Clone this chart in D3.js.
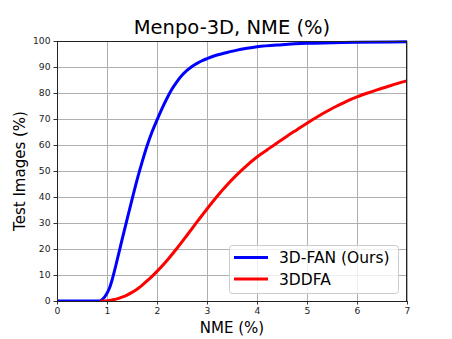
<!DOCTYPE html>
<html>
<head>
<meta charset="utf-8">
<script src="https://cdn.jsdelivr.net/npm/d3@7"></script>
<style>
  html, body { margin: 0; padding: 0; background: #fff; }
  svg { display: block; font-family: "DejaVu Sans", sans-serif; }
</style>
</head>
<body>
<svg id="chart" width="452" height="339"></svg>
<script>
// ---- data ----
const title = "Menpo-3D, NME (%)";
const xLabel = "NME (%)";
const yLabel = "Test Images (%)";
const seriesNames = ["3D-FAN (Ours)", "3DDFA"];
const seriesColors = ["#0000ff", "#ff0000"];

const fanX = [0, 0.85, 0.9, 0.95, 1.0, 1.05, 1.1, 1.2, 1.3, 1.4, 1.5, 1.6, 1.7, 1.8, 1.9, 2.0, 2.1, 2.2, 2.3, 2.4, 2.5, 2.6, 2.7, 2.8, 2.9, 3.0, 3.2, 3.4, 3.6, 3.8, 4.0, 4.5, 5.0, 5.5, 6.0, 7.0];
const fanY = [0, 0, 0.5, 1.5, 3, 5, 8, 15.5, 23.5, 31.3, 39, 46.5, 53.3, 59.6, 65, 69.6, 74, 78, 81.5, 84.4, 86.8, 88.7, 90.2, 91.4, 92.4, 93.2, 94.6, 95.6, 96.5, 97.2, 97.8, 98.6, 99.1, 99.3, 99.5, 99.7];

const ddfaX = [0.9, 1.0, 1.1, 1.2, 1.3, 1.4, 1.5, 1.6, 1.7, 1.8, 1.9, 2.0, 2.2, 2.4, 2.6, 2.8, 3.0, 3.2, 3.4, 3.6, 3.8, 4.0, 4.2, 4.4, 4.6, 4.8, 5.0, 5.2, 5.4, 5.6, 5.8, 6.0, 6.2, 6.4, 6.6, 6.8, 7.0];
const ddfaY = [0, 0.1, 0.4, 0.8, 1.5, 2.3, 3.3, 4.5, 6.0, 7.7, 9.5, 11.4, 15.6, 20.3, 25.3, 30.4, 35.4, 40.2, 44.6, 48.6, 52.2, 55.4, 58.1, 60.8, 63.4, 65.9, 68.4, 70.8, 73.0, 75.0, 76.9, 78.5, 79.9, 81.2, 82.4, 83.6, 84.7];

const xTicks = [0, 1, 2, 3, 4, 5, 6, 7];
const yTicks = [0, 10, 20, 30, 40, 50, 60, 70, 80, 90, 100];

// ---- layout ----
const svg = d3.select("#chart");
const m = { left: 57, right: 407, top: 41, bottom: 301 };
const x = d3.scaleLinear().domain([0, 7]).range([m.left, m.right]);
const y = d3.scaleLinear().domain([0, 100]).range([m.bottom, m.top]);

// grid
const grid = svg.append("g");
grid.selectAll("line.vx").data(xTicks).join("line")
  .attr("x1", d => Math.round(x(d)) + 0.5).attr("x2", d => Math.round(x(d)) + 0.5)
  .attr("y1", m.top).attr("y2", m.bottom)
  .attr("stroke", "#b0b0b0").attr("stroke-width", 1);
grid.selectAll("line.hy").data(yTicks).join("line")
  .attr("y1", d => Math.round(y(d)) + 0.5).attr("y2", d => Math.round(y(d)) + 0.5)
  .attr("x1", m.left).attr("x2", m.right)
  .attr("stroke", "#b0b0b0").attr("stroke-width", 1);

// clip
svg.append("clipPath").attr("id", "clip").append("rect")
  .attr("x", m.left).attr("y", m.top - 2).attr("width", m.right - m.left).attr("height", m.bottom - m.top + 2);

const line = d3.line().x(d => x(d[0])).y(d => y(d[1])).curve(d3.curveMonotoneX);
const series = [d3.zip(fanX, fanY), d3.zip(ddfaX, ddfaY)];
const lines = svg.append("g").attr("clip-path", "url(#clip)");
series.forEach((s, i) => {
  lines.append("path").datum(s).attr("d", line)
    .attr("fill", "none").attr("stroke", seriesColors[i])
    .attr("stroke-width", 3).attr("stroke-linejoin", "round").attr("stroke-linecap", "square");
});

// axes
const xAxis = d3.axisBottom(x).tickValues(xTicks).tickSize(3.5).tickPadding(3).tickFormat(d3.format("d"));
const yAxis = d3.axisLeft(y).tickValues(yTicks).tickSize(3.5).tickPadding(3).tickFormat(d3.format("d"));
const gx = svg.append("g").attr("transform", `translate(0,${m.bottom})`).call(xAxis);
const gy = svg.append("g").attr("transform", `translate(${m.left},0)`).call(yAxis);
[gx, gy].forEach(g => {
  g.select(".domain").remove();
  g.selectAll("text").attr("font-size", 9.2).attr("fill", "#222").attr("font-family", "DejaVu Sans");
  g.selectAll("line").attr("stroke", "#333");
});

// frame
svg.append("rect").attr("x", m.left + 0.5).attr("y", m.top + 0.5)
  .attr("width", m.right - m.left - 1).attr("height", m.bottom - m.top)
  .attr("fill", "none").attr("stroke", "#222").attr("stroke-width", 1);

// titles
svg.append("text").attr("x", (m.left + m.right) / 2).attr("y", 34)
  .attr("text-anchor", "middle").attr("font-size", 19.5).attr("fill", "#000").text(title);
svg.append("text").attr("x", (m.left + m.right) / 2).attr("y", 333)
  .attr("text-anchor", "middle").attr("font-size", 15).attr("fill", "#000").text(xLabel);
svg.append("text").attr("transform", `translate(25,${(m.top + m.bottom) / 2}) rotate(-90)`)
  .attr("text-anchor", "middle").attr("font-size", 15).attr("fill", "#000").text(yLabel);

// legend
const lg = svg.append("g");
lg.append("rect").attr("x", 229.5).attr("y", 245.5).attr("width", 169).attr("height", 48).attr("rx", 3)
  .attr("fill", "#fff").attr("fill-opacity", 0.8).attr("stroke", "#cccccc").attr("stroke-width", 1);
seriesNames.forEach((n, i) => {
  const yy = 257.5 + i * 21.5;
  lg.append("line").attr("x1", 234).attr("x2", 268).attr("y1", yy).attr("y2", yy)
    .attr("stroke", seriesColors[i]).attr("stroke-width", 3);
  lg.append("text").attr("x", 279).attr("y", yy + 5.8).attr("font-size", 15.5).attr("fill", "#000").text(n);
});
</script>
</body>
</html>
